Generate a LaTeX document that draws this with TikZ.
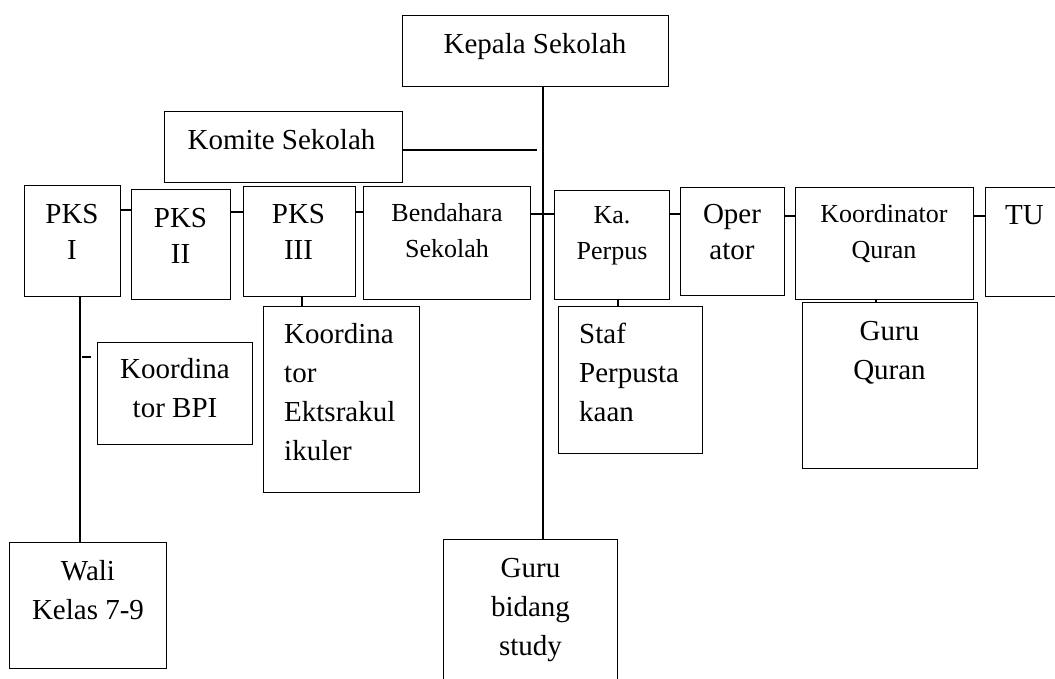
\documentclass[tikz,border=0pt]{standalone}
\usepackage{fontspec}
\setmainfont{Liberation Serif}
\newcommand\mylines[1]{\begin{tabular}[t]{@{}c@{}}#1\end{tabular}}
\newcommand\myleft[1]{\begin{tabular}[t]{@{}l@{}}#1\end{tabular}}
\begin{document}
\begin{tikzpicture}[x=1pt,y=-1pt,
  box/.style={draw, line width=1.3pt, inner sep=0pt, anchor=north west},
  txt/.style={inner sep=0pt, anchor=base, font=\fontsize{29}{36}\selectfont},
  txtl/.style={inner sep=0pt, anchor=base, font=\fontsize{29}{39}\selectfont},
  txts/.style={inner sep=0pt, anchor=base, font=\fontsize{26}{36}\selectfont},
  con/.style={line width=1.3pt}]
\useasboundingbox (0,0) rectangle (1055,678);
\clip (0,0) rectangle (1055,678);
% boxes
\node[box, minimum width=266pt, minimum height=71pt] (kepala) at (402,15) {};
\node[box, minimum width=238pt, minimum height=71pt] (komite) at (164,111) {};
\node[box, minimum width=96pt, minimum height=111pt] (pks1) at (24,185) {};
\node[box, minimum width=99pt, minimum height=110pt] (pks2) at (131,189) {};
\node[box, minimum width=112pt, minimum height=110pt] (pks3) at (243,186) {};
\node[box, minimum width=167pt, minimum height=113pt] (bend) at (363,186) {};
\node[box, minimum width=115pt, minimum height=109pt] (perp) at (554,190) {};
\node[box, minimum width=104pt, minimum height=108pt] (oper) at (680,187) {};
\node[box, minimum width=178pt, minimum height=112pt] (kq) at (795,187) {};
\node[box, minimum width=90pt, minimum height=109pt] (tu) at (985,187) {};
\node[box, minimum width=155pt, minimum height=102pt] (bpi) at (97,342) {};
\node[box, minimum width=156pt, minimum height=186pt] (ekst) at (263,306) {};
\node[box, minimum width=144pt, minimum height=147pt] (staf) at (558,306) {};
\node[box, minimum width=175pt, minimum height=166pt] (gq) at (802,302) {};
\node[box, minimum width=157pt, minimum height=126pt] (wali) at (9,542) {};
\node[box, minimum width=174pt, minimum height=160pt] (gbs) at (443,539) {};
% texts
\node[txt] (kepalat) at (535,53) {Kepala Sekolah};
\node[txt, anchor=base west] (komitet) at (187.5,149) {Komite Sekolah};
\node[txt] (pks1t) at (72,223) {\mylines{PKS\\I}};
\node[txt] (pks2t) at (180.5,227) {\mylines{PKS\\II}};
\node[txt] (pks3t) at (298.5,223) {\mylines{PKS\\III}};
\node[txts] (bendt) at (447,221) {\mylines{Bendahara\\Sekolah}};
\node[txts] (perpt) at (612,223) {\mylines{Ka.\\Perpus}};
\node[txt] (opert) at (732,223) {\mylines{Oper\\ator}};
\node[txts] (kqt) at (884,222) {\mylines{Koordinator\\Quran}};
\node[txt] (tut) at (1024.5,224) {TU};
\node[txtl] (bpit) at (175,378) {\mylines{Koordina\\tor BPI}};
\node[txtl, anchor=base west] (ekstt) at (284,343) {\myleft{Koordina\\tor\\Ektsrakul\\ikuler}};
\node[txtl, anchor=base west] (staft) at (579,343) {\myleft{Staf\\Perpusta\\kaan}};
\node[txtl] (gqt) at (889.5,340) {\mylines{Guru\\Quran}};
\node[txtl] (walit) at (88,580) {\mylines{Wali\\Kelas 7-9}};
\node[txtl] (gbst) at (530.5,577) {\mylines{Guru\\bidang\\study}};
% helper coordinates
\coordinate (h210) at (0,210);
\coordinate (h212) at (0,212);
\coordinate (h214) at (0,214);
\coordinate (h216) at (0,216);
\coordinate (mx) at (543,0);
\coordinate (kend) at (537,150);
\coordinate (v80) at (80,0);
\coordinate (v302) at (302,0);
\coordinate (v618) at (618,0);
\coordinate (v876) at (876,0);
\coordinate (d1) at (82,357);
\coordinate (d2) at (91,357);
% connectors
\draw[con] (kepala.south -| mx) -- (gbs.north -| mx);
\draw[con] (komite.east |- kend) -- (kend);
\draw[con] (pks1.east |- h210) -- (pks2.west |- h210);
\draw[con] (pks2.east |- h212) -- (pks3.west |- h212);
\draw[con] (pks3.east |- h212) -- (bend.west |- h212);
\draw[con] (bend.east |- h214) -- (perp.west |- h214);
\draw[con] (perp.east |- h214) -- (oper.west |- h214);
\draw[con] (oper.east |- h216) -- (kq.west |- h216);
\draw[con] (kq.east |- h216) -- (tu.west |- h216);
\draw[con] (pks1.south -| v80) -- (wali.north -| v80);
\draw[con] (pks3.south -| v302) -- (ekst.north -| v302);
\draw[con] (perp.south -| v618) -- (staf.north -| v618);
\draw[con] (kq.south -| v876) -- (gq.north -| v876);
\draw[con] (d1) -- (d2);
\end{tikzpicture}
\end{document}
